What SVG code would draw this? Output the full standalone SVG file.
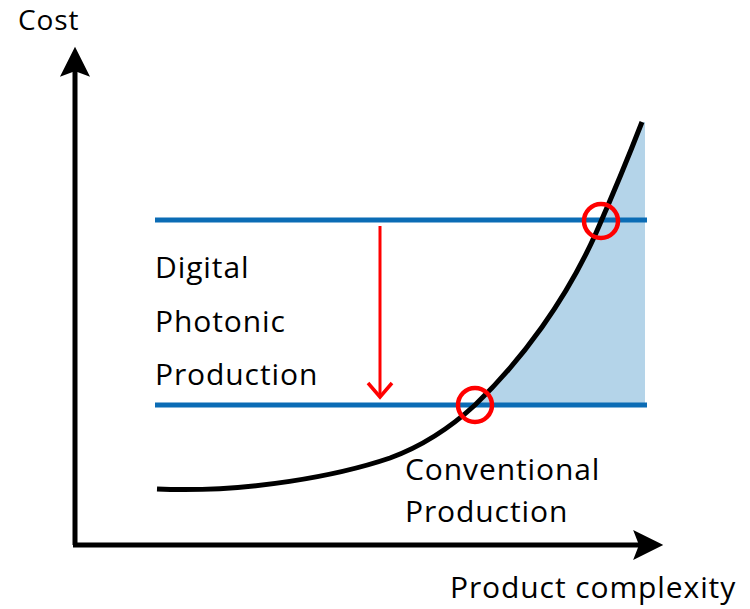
<svg xmlns="http://www.w3.org/2000/svg" width="750" height="609" viewBox="0 0 750 609">
<style>
text{font-family:"Open Sans","Noto Sans","Liberation Sans",sans-serif;font-size:30px;letter-spacing:0.9px;fill:#000}
.blue{stroke:#0b6cb5;stroke-width:5;fill:none}
.ring{stroke:#ff0000;stroke-width:4.5;fill:none}
</style>
<rect width="750" height="609" fill="#fff"/>
<g id="fill-area">
<path d="M475,405 C522,360 566,300 596,233 C614,192 630,153 642,122 L645,122 L645,405 Z" fill="#b4d4e9"/>
</g>
<g id="connectors">
<path d="M75,545 L75,70" stroke="#000" stroke-width="5" fill="none"/>
<path d="M75,49 L88,75 L75,70 L62,75 Z" fill="#000" stroke="#000" stroke-width="2" stroke-linejoin="miter"/>
<path d="M73,545 L640,545" stroke="#000" stroke-width="5" fill="none"/>
<path d="M661,545 L635,532 L640,545 L635,558 Z" fill="#000" stroke="#000" stroke-width="2"/>
<path d="M380,226 L380,396" stroke="#ff0000" stroke-width="3" fill="none"/>
<path d="M368,383 L380,397 L392,383" stroke="#ff0000" stroke-width="3.5" fill="none"/>
</g>
<g id="lines">
<line class="blue" x1="155" y1="220" x2="647" y2="220"/>
<line class="blue" x1="155" y1="405" x2="647" y2="405"/>
</g>
<g id="curve">
<path d="M157,489 C250,493 340,475 390,458 C420,447 450,428 475,405 C522,360 566,300 596,233 C614,192 630,153 642,122" stroke="#000" stroke-width="5" fill="none"/>
</g>
<g id="circles">
<circle class="ring" cx="601" cy="221" r="17"/>
<circle class="ring" cx="475" cy="405" r="17"/>
</g>
<g id="labels">
<text x="18" y="30" style="font-size:28px">Cost</text>
<text x="155" y="278">Digital</text>
<text x="155" y="332">Photonic</text>
<text x="155" y="385">Production</text>
<text x="405" y="480">Conventional</text>
<text x="405" y="522">Production</text>
<text x="450" y="598">Product complexity</text>
</g>
</svg>
